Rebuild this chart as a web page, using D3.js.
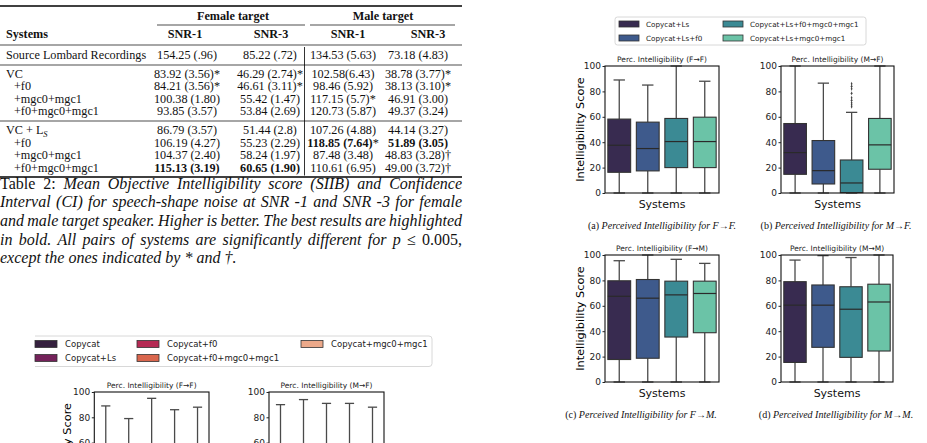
<!DOCTYPE html>
<html>
<head>
<meta charset="utf-8">
<script src="https://cdn.jsdelivr.net/npm/d3@7"></script>
<style>
  body { margin: 0; background: #fff; }
  svg { display: block; }
</style>
</head>
<body>
<svg class="svg"></svg>
<script>
// ---- table 2 ----
const targetGroups = ["Female target", "Male target"];
const tableHeaders = ["Systems", "SNR-1", "SNR-3", "SNR-1", "SNR-3"];
const tableLabels = ["Source Lombard Recordings", "VC", "+f0", "+mgc0+mgc1", "+f0+mgc0+mgc1", "VC + L", "+f0", "+mgc0+mgc1", "+f0+mgc0+mgc1"];
const tableGroup = [0, 1, 1, 1, 1, 2, 2, 2, 2];
const femaleSnr1 = ["154.25 (.96)", "83.92 (3.56)*", "84.21 (3.56)*", "100.38 (1.80)", "93.85 (3.57)", "86.79 (3.57)", "106.19 (4.27)", "104.37 (2.40)", "115.13 (3.19)"];
const femaleSnr3 = ["85.22 (.72)", "46.29 (2.74)*", "46.61 (3.11)*", "55.42 (1.47)", "53.84 (2.69)", "51.44 (2.8)", "55.23 (2.29)", "58.24 (1.97)", "60.65 (1.90)"];
const maleSnr1 = ["134.53 (5.63)", "102.58(6.43)", "98.46 (5.92)", "117.15 (5.7)*", "120.73 (5.87)", "107.26 (4.88)", "118.85 (7.64)*", "87.48 (3.48)", "110.61 (6.95)"];
const maleSnr3 = ["73.18 (4.83)", "38.78 (3.77)*", "38.13 (3.10)*", "46.91 (3.00)", "49.37 (3.24)", "44.14 (3.27)", "51.89 (3.05)", "48.83 (3.28)†", "49.00 (3.72)†"];
const bestCells = ["118.85 (7.64)", "51.89 (3.05)", "115.13 (3.19)", "60.65 (1.90)"];

const captionLines = [
  "{Table 2:} Mean Objective Intelligibility score (SIIB) and Confidence",
  "Interval (CI) for speech-shape noise at SNR -1 and SNR -3 for female",
  "and male target speaker. Higher is better. The best results are highlighted",
  "in bold. All pairs of systems are significantly different for p {≤ 0.005,}",
  "except the ones indicated by * and †."
];

// ---- box plots, stats are [low whisker, q1, median, q3, high whisker] ----
const leftSystems = ["Copycat", "Copycat+Ls", "Copycat+f0", "Copycat+f0+mgc0+mgc1", "Copycat+mgc0+mgc1"];
const leftColors = ["#35203e", "#74225a", "#b52a54", "#d9664d", "#eca98a"];
const statsFF = [[0, 15, 35, 55, 89], [0, 14, 32, 50, 79], [0, 18, 40, 58, 95], [0, 16, 37, 56, 86], [0, 17, 38, 57, 88]];
const statsMF = [[0, 15, 35, 56, 90], [0, 17, 38, 58, 94], [0, 16, 36, 57, 91], [0, 16, 37, 57, 91], [0, 15, 34, 55, 88]];

const rightSystems = ["Copycat+Ls", "Copycat+Ls+f0", "Copycat+Ls+f0+mgc0+mgc1", "Copycat+Ls+mgc0+mgc1"];
const rightColors = ["#382b50", "#3e5a8c", "#3b8a94", "#6bc3a7"];
const statsFFLs = [[0, 16.3, 37.6, 58.2, 89], [0, 17.4, 35, 55.8, 85], [0, 20, 40.5, 58.7, 100], [0, 20, 40.5, 59.7, 88]];
const statsMFLs = [[0, 14.7, 31.8, 54.7, 100], [0, 7.1, 17.6, 41.3, 86.5], [0, 0.3, 7.9, 26, 63.5], [0, 18.7, 37.9, 58.7, 100]];
const outliersMFLs = [[], [], [86, 84, 82, 78.5, 75, 73, 71, 69.5, 68], []];
const statsFMLs = [[0, 17.7, 67.5, 79.7, 95.5], [0, 18.7, 66, 80.7, 100], [0, 35.4, 68.6, 79.4, 96.6], [0, 38.8, 69.7, 79.4, 93.4]];
const statsMMLs = [[0, 15.4, 60.5, 79, 96], [0, 27.3, 60.5, 76.4, 99.5], [0, 19.4, 57.3, 75, 98], [0, 24.4, 63, 77, 100]];
const yTicks = [0, 20, 40, 60, 80, 100];

const serif = "'Liberation Serif', 'Times New Roman', serif";
const sans = "'DejaVu Sans', sans-serif";

const svg = d3.select(".svg").attr("width", 927).attr("height", 443);

// ---------- table ----------
function drawTable() {
  const g = svg.append("g").attr("font-family", serif).attr("font-size", 12.2).attr("fill", "#111");
  const colX = [6, 187, 270, 343, 418];
  const headX = [6, 185, 271, 348, 428];
  const rowY = (i) => 58.5 + i * 12.5 + tableGroup[i] * 6.5;

  const rule = (x1, x2, y, w) => g.append("line")
    .attr("x1", x1).attr("x2", x2).attr("y1", y).attr("y2", y)
    .attr("stroke", "#000").attr("stroke-width", w);

  rule(0, 462, 6, 1.3);
  rule(157, 305, 25, 0.7);
  rule(310, 455, 25, 0.7);
  rule(0, 462, 45, 0.7);
  rule(0, 462, rowY(0) + 6.5, 0.7);
  rule(0, 462, rowY(4) + 6, 0.7);
  rule(0, 462, rowY(8) + 5.5, 1.3);

  g.append("line").attr("x1", 304.5).attr("x2", 304.5).attr("y1", 47).attr("y2", rowY(8) + 4)
    .attr("stroke", "#000").attr("stroke-width", 0.8);

  g.selectAll("text.group").data(targetGroups).join("text")
    .attr("class", "group")
    .attr("x", (d, i) => i === 0 ? 233 : 383).attr("y", 20)
    .attr("text-anchor", "middle").attr("font-weight", "bold")
    .text((d) => d);

  g.selectAll("text.head").data(tableHeaders).join("text")
    .attr("class", "head")
    .attr("x", (d, i) => headX[i]).attr("y", 38)
    .attr("text-anchor", (d, i) => i === 0 ? "start" : "middle")
    .attr("font-weight", "bold")
    .text((d) => d);

  // row labels
  const labels = g.selectAll("text.label").data(tableLabels).join("text")
    .attr("class", "label")
    .attr("x", (d, i) => (i === 0 || i === 1 || i === 5) ? 6 : 14)
    .attr("y", (d, i) => rowY(i))
    .text((d) => d);
  labels.filter((d, i) => i === 5).append("tspan")
    .attr("font-style", "italic").attr("font-size", 8.5).attr("dy", 2.5).text("S");

  const columns = [femaleSnr1, femaleSnr3, maleSnr1, maleSnr3];
  columns.forEach((col, c) => {
    const cells = g.selectAll(null).data(col).join("text")
      .attr("x", colX[c + 1]).attr("y", (d, i) => rowY(i))
      .attr("text-anchor", "middle");
    cells.each(function (d) {
      const m = d.match(/^(.*?)([*†]?)$/);
      const t = d3.select(this);
      t.append("tspan").attr("font-weight", bestCells.includes(m[1]) ? "bold" : null).text(m[1]);
      if (m[2]) t.append("tspan").text(m[2]);
    });
  });
}

// justified caption, words positioned one by one
function drawCaption() {
  const fs = 16;
  const width = 462;
  const g = svg.append("g").attr("font-family", serif).attr("font-size", fs).attr("fill", "#111");
  captionLines.forEach((line, li) => {
    let upright = false;
    const words = line.split(" ").map((w) => {
      let s = w;
      if (s.startsWith("{")) { upright = true; s = s.slice(1); }
      const up = upright;
      if (s.endsWith("}")) { s = s.slice(0, -1); upright = false; }
      return { s, up };
    });
    const lineG = g.append("g");
    const texts = lineG.selectAll("text").data(words).join("text")
      .attr("y", 0)
      .attr("font-style", (d) => d.up ? "normal" : "italic")
      .text((d) => d.s);
    const lens = [];
    texts.each(function () { lens.push(this.getComputedTextLength()); });
    const total = d3.sum(lens);
    const last = li === captionLines.length - 1;
    const minGap = fs * 0.17;
    let gap = last ? fs * 0.25 : (width - total) / (words.length - 1);
    let sx = 1;
    if (gap < minGap) {
      gap = minGap;
      sx = width / (total + gap * (words.length - 1));
    }
    let x = 0;
    texts.attr("x", (d, i) => { const cx = x; x += lens[i] + gap; return cx; });
    lineG.attr("transform", `translate(0,${188.5 + li * 18.7}) scale(${sx},1)`);
  });
}

// ---------- legends ----------
function drawLegend(names, colors, opts) {
  const g = svg.append("g").attr("font-family", sans).attr("font-size", opts.fontSize);
  if (opts.openLeft) {
    const { x0, y0, x1, y1 } = opts.box;
    g.append("path")
      .attr("d", `M${x0},${y0}H${x1 - 3}Q${x1},${y0} ${x1},${y0 + 3}V${y1 - 3}Q${x1},${y1} ${x1 - 3},${y1}H${x0}`)
      .attr("fill", "#fff").attr("stroke", "#d8d8d8").attr("stroke-width", 1);
  } else {
    g.append("rect")
      .attr("x", opts.box.x0).attr("y", opts.box.y0)
      .attr("width", opts.box.x1 - opts.box.x0).attr("height", opts.box.y1 - opts.box.y0)
      .attr("rx", 2.5).attr("fill", "#fff").attr("stroke", "#d8d8d8").attr("stroke-width", 1);
  }
  const item = g.selectAll("g.item").data(names).join("g")
    .attr("class", "item")
    .attr("transform", (d, i) => `translate(${opts.colX[Math.floor(i / 2)]},${opts.rowY[i % 2]})`);
  item.append("rect")
    .attr("x", 0).attr("y", -opts.sh / 2).attr("width", opts.sw).attr("height", opts.sh)
    .attr("fill", (d, i) => colors[i]).attr("stroke", "#333").attr("stroke-width", 0.8);
  item.append("text")
    .attr("x", opts.textDx).attr("dy", "0.35em").attr("fill", "#222")
    .text((d) => d);
}

// ---------- box plot ----------
function boxChart(o) {
  const g = svg.append("g").attr("transform", `translate(${o.left},${o.top})`).attr("font-family", sans);
  const x = d3.scaleBand().domain(o.systems).range([0, o.width]);
  const y = d3.scaleLinear().domain([0, 100]).range([o.height, 0]);
  const bw = x.bandwidth() * 0.8;
  const cx = (i) => x(o.systems[i]) + x.bandwidth() / 2;
  const lineCol = "#4a4a4a";

  const box = g.selectAll("g.box").data(o.stats).join("g").attr("class", "box");

  box.append("line")
    .attr("x1", (d, i) => cx(i)).attr("x2", (d, i) => cx(i))
    .attr("y1", (d) => y(d[0])).attr("y2", (d) => y(d[1]))
    .attr("stroke", lineCol).attr("stroke-width", 1.3);
  box.append("line")
    .attr("x1", (d, i) => cx(i)).attr("x2", (d, i) => cx(i))
    .attr("y1", (d) => y(d[3])).attr("y2", (d) => y(d[4]))
    .attr("stroke", lineCol).attr("stroke-width", 1.3);

  box.append("rect")
    .attr("x", (d, i) => cx(i) - bw / 2).attr("width", bw)
    .attr("y", (d) => y(d[3])).attr("height", (d) => y(d[1]) - y(d[3]))
    .attr("fill", (d, i) => o.colors[i])
    .attr("stroke", "#333").attr("stroke-width", 1.1);

  box.append("line")
    .attr("x1", (d, i) => cx(i) - bw / 2).attr("x2", (d, i) => cx(i) + bw / 2)
    .attr("y1", (d) => y(d[2])).attr("y2", (d) => y(d[2]))
    .attr("stroke", "#2a2a2a").attr("stroke-width", 1.2);

  [0, 4].forEach((k) => {
    box.append("line")
      .attr("x1", (d, i) => cx(i) - bw / 4).attr("x2", (d, i) => cx(i) + bw / 4)
      .attr("y1", (d) => y(d[k])).attr("y2", (d) => y(d[k]))
      .attr("stroke", lineCol).attr("stroke-width", 1.3);
  });

  if (o.outliers) {
    o.outliers.forEach((list, i) => {
      g.selectAll(null).data(list).join("path")
        .attr("d", d3.symbol(d3.symbolDiamond, 5))
        .attr("transform", (v) => `translate(${cx(i)},${y(v)}) scale(0.7,1)`)
        .attr("fill", "#444");
    });
  }

  g.append("rect")
    .attr("width", o.width).attr("height", o.height)
    .attr("fill", "none").attr("stroke", "#111").attr("stroke-width", 1.1);

  const ax = g.append("g")
    .call(d3.axisLeft(y).tickValues(yTicks).tickSize(2.5).tickPadding(1.5));
  ax.select(".domain").remove();
  ax.selectAll("text").attr("font-family", sans).attr("font-size", 9).attr("fill", "#222");
  ax.selectAll("line").attr("stroke", "#222");

  g.append("text")
    .attr("x", o.width / 2).attr("y", -4)
    .attr("text-anchor", "middle").attr("font-size", 7.5).attr("fill", "#222")
    .text(o.title);

  g.append("text")
    .attr("x", o.width / 2).attr("y", o.height + 14.5)
    .attr("text-anchor", "middle").attr("font-size", 11).attr("fill", "#111")
    .text("Systems");

  if (o.yLabel) {
    g.append("text")
      .attr("transform", `translate(${o.yLabelX},${o.height / 2}) rotate(-90)`)
      .attr("text-anchor", "middle").attr("dy", "0.35em")
      .attr("font-size", 11.3).attr("fill", "#000")
      .text("Intelligibility Score");
  }

  if (o.caption) {
    const t = g.append("text")
      .attr("x", o.captionX - o.left).attr("y", o.height + 35.5)
      .attr("text-anchor", "middle").attr("font-family", serif).attr("font-size", 10).attr("fill", "#111");
    t.append("tspan").text(o.caption[0] + " ");
    t.append("tspan").attr("font-style", "italic").text(o.caption[1]);
  }
}

drawTable();
drawCaption();

drawLegend(leftSystems, leftColors, {
  fontSize: 8.5, openLeft: true,
  box: { x0: 35, y0: 336, x1: 432, y1: 366.5 },
  colX: [35, 137, 301], rowY: [344, 358], sw: 22, sh: 7, textDx: 30
});
drawLegend(rightSystems, rightColors, {
  fontSize: 7.2,
  box: { x0: 615, y0: 17, x1: 866, y1: 45 },
  colX: [619, 723], rowY: [24, 38], sw: 20, sh: 6, textDx: 27
});

boxChart({ left: 94.3, top: 392, width: 114.7, height: 126.5, systems: leftSystems, colors: leftColors,
  stats: statsFF, title: "Perc. Intelligibility (F→F)", yLabel: true, yLabelX: -27 });
boxChart({ left: 269, top: 392, width: 115, height: 126.5, systems: leftSystems, colors: leftColors,
  stats: statsMF, title: "Perc. Intelligibility (M→F)" });

boxChart({ left: 605, top: 66, width: 114, height: 127, systems: rightSystems, colors: rightColors,
  stats: statsFFLs, title: "Perc. Intelligibility (F→F)", yLabel: true, yLabelX: -25,
  caption: ["(a)", "Perceived Intelligibility for F→F."], captionX: 662 });
boxChart({ left: 781, top: 66, width: 113, height: 127, systems: rightSystems, colors: rightColors,
  stats: statsMFLs, outliers: outliersMFLs, title: "Perc. Intelligibility (M→F)",
  caption: ["(b)", "Perceived Intelligibility for M→F."], captionX: 836 });
boxChart({ left: 605, top: 255, width: 114, height: 127, systems: rightSystems, colors: rightColors,
  stats: statsFMLs, title: "Perc. Intelligibility (F→M)", yLabel: true, yLabelX: -25,
  caption: ["(c)", "Perceived Intelligibility for  F→M."], captionX: 641 });
boxChart({ left: 781, top: 255, width: 112, height: 127, systems: rightSystems, colors: rightColors,
  stats: statsMMLs, title: "Perc. Intelligibility (M→M)",
  caption: ["(d)", "Perceived Intelligibility for M→M."], captionX: 836 });
</script>
</body>
</html>
